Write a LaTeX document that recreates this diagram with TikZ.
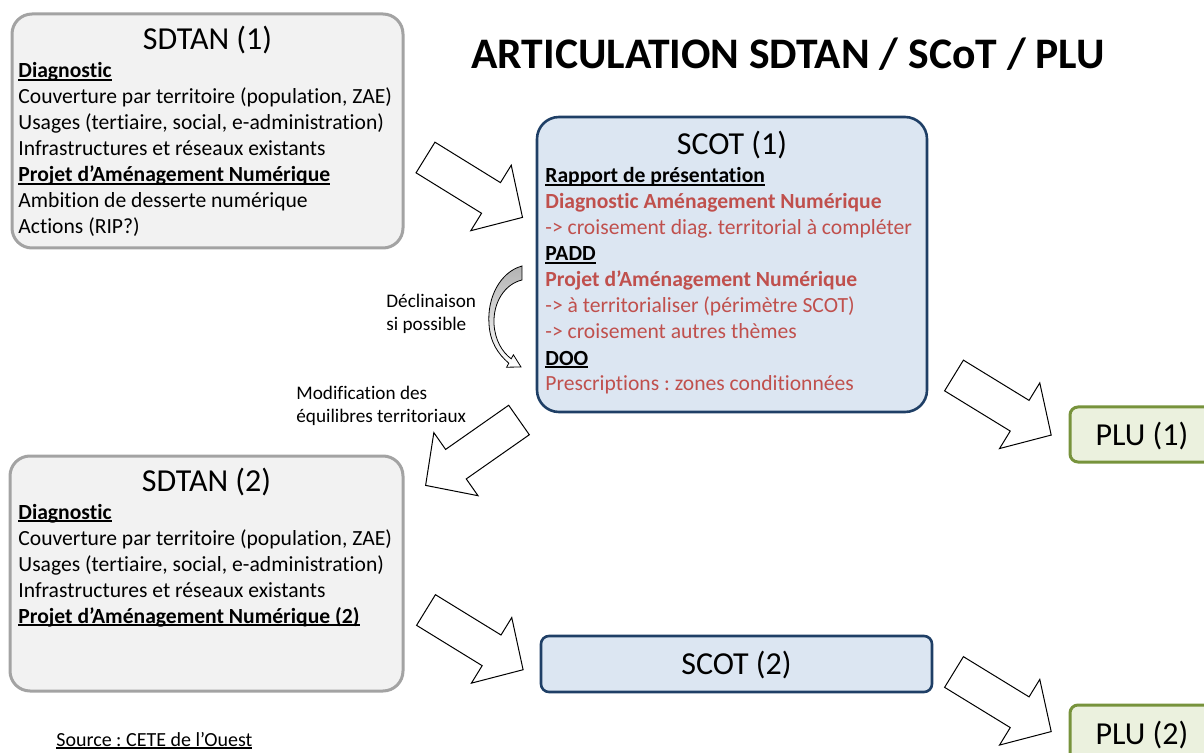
\documentclass[tikz,border=0pt]{standalone}
\usepackage{fontspec}
\setmainfont[Ligatures=NoCommon]{Carlito}
\usepackage{xcolor}
\usepackage{tikz}
\frenchspacing

\definecolor{sdfill}{HTML}{F2F2F2}
\definecolor{sdline}{HTML}{A3A3A3}
\definecolor{scfill}{HTML}{DCE6F2}
\definecolor{scline}{HTML}{1F3F66}
\definecolor{plufill}{HTML}{EBF1DE}
\definecolor{pluline}{HTML}{77933C}
\definecolor{scred}{HTML}{C0504D}

\newcommand{\souligne}[1]{\setbox0\hbox{#1}\rlap{\rule[-1.4pt]{\wd0}{0.7pt}}\box0}
\newcommand{\rubrique}[1]{\souligne{\textbf{#1}}}
\newcommand{\rouge}[1]{\textcolor{scred}{#1}}

\tikzset{
  sdbox/.style={draw=sdline,fill=sdfill,line width=1.5pt,rounded corners=10pt,inner sep=0pt},
  scbox/.style={draw=scline,fill=scfill,line width=1.3pt,inner sep=0pt},
  plubox/.style={draw=pluline,fill=plufill,line width=1.5pt,rounded corners=4pt,inner sep=0pt},
  titre/.style={anchor=base,font=\fontsize{16}{19}\selectfont,inner sep=0pt},
  ligne/.style={anchor=base west,font=\fontsize{10.8}{13}\selectfont,inner sep=0pt},
  lbl/.style={anchor=north west,align=left,font=\fontsize{9.6}{11.5}\selectfont,inner sep=0pt},
  blkarrow/.pic={\draw[fill=white,line width=0.5pt,line join=miter]
    (0,-18) -- (77,-18) -- (77,-38.5) -- (114,0) -- (77,38.5) -- (77,18) -- (0,18) -- cycle;}
}

\begin{document}
\begin{tikzpicture}[x=0.5pt,y=-0.5pt]
\useasboundingbox (0,0) rectangle (1204,753);

% title
\node[anchor=base,font=\fontsize{21.8}{26}\selectfont\bfseries,inner sep=0pt] (titre) at (788,69) {ARTICULATION SDTAN / SCoT / PLU};

% SDTAN (1)
\node[sdbox,minimum width=195.5pt,minimum height=117pt] (sdtanA) at (207.5,131) {};
\node[titre] (sdtanAt) at (207.5,50) {SDTAN (1)};
\foreach \ln [count=\i from 0] in {{\rubrique{Diagnostic}},
    {Couverture par territoire (population, ZAE)},
    {Usages (tertiaire, social, e-administration)},
    {Infrastructures et réseaux existants},
    {\rubrique{Projet d’Aménagement Numérique}},
    {Ambition de desserte numérique},
    {Actions (RIP?)}}
  \node[ligne] (sdtanA-\i) at (18,{78+26*\i}) {\ln};

% SCOT (1)
\node[scbox,rounded corners=11pt,minimum width=195pt,minimum height=147.5pt] (scotA) at (732,264.5) {};
\node[titre] (scotAt) at (732,155) {SCOT (1)};
\foreach \ln [count=\i from 0] in {{\rubrique{Rapport de présentation}},
    {\rouge{\textbf{Diagnostic Aménagement Numérique}}},
    {\rouge{-> croisement diag. territorial à compléter}},
    {\rubrique{PADD}},
    {\rouge{\textbf{Projet d’Aménagement Numérique}}},
    {\rouge{-> à territorialiser (périmètre SCOT)}},
    {\rouge{-> croisement autres thèmes}},
    {\rubrique{DOO}},
    {\rouge{Prescriptions : zones conditionnées}}}
  \node[ligne] (scotA-\i) at (545,{183+26*\i}) {\ln};

% PLU (1)
\node[plubox,minimum width=72pt,minimum height=27.5pt] (pluA) at (1142,434.5) {};
\node[titre,anchor=center] (pluAt) at (1142,436) {PLU (1)};

% SDTAN (2)
\node[sdbox,minimum width=196.5pt,minimum height=117.5pt] (sdtanB) at (206.5,573.5) {};
\node[titre] (sdtanBt) at (206.5,491) {SDTAN (2)};
\foreach \ln [count=\i from 0] in {{\rubrique{Diagnostic}},
    {Couverture par territoire (population, ZAE)},
    {Usages (tertiaire, social, e-administration)},
    {Infrastructures et réseaux existants},
    {\rubrique{Projet d’Aménagement Numérique (2)}}}
  \node[ligne] (sdtanB-\i) at (18,{519+26*\i}) {\ln};

% SCOT (2)
\node[scbox,rounded corners=4pt,minimum width=195.5pt,minimum height=28pt] (scotB) at (736.5,664) {};
\node[titre,anchor=center] (scotBt) at (736.5,665) {SCOT (2)};

% PLU (2)
\node[plubox,minimum width=72pt,minimum height=30pt] (pluB) at (1142,735) {};
\node[titre,anchor=center] (pluBt) at (1142,735) {PLU (2)};

% block arrows
\pic[rotate=-31.7] at (425.5,157.5) {blkarrow};
\pic[rotate=-31.5] at (954,375.5) {blkarrow};
\pic[rotate=-31.6] at (426,610) {blkarrow};
\pic[rotate=-31.5] at (954,672) {blkarrow};
\pic[rotate=215] at (519,420) {blkarrow};

% curved arrow
\draw[line width=0.4pt,top color=black!30,bottom color=white]
  (522,266) .. controls (500,272) and (487,298) .. (489,324)
  .. controls (490,342) and (498,354) .. (508.8,363.2)
  -- (506.6,367.2) -- (521,367) -- (513.4,354.8) -- (511.2,358.8)
  .. controls (502,352) and (495,340) .. (494,324)
  .. controls (493,302) and (505,284) .. (522,280) -- cycle;

% labels
\node[lbl] (decl) at (386,294) {Déclinaison\\si possible};
\node[lbl] (modif) at (296,386) {Modification des\\équilibres territoriaux};
\node[anchor=base west,font=\fontsize{10}{12}\selectfont,inner sep=0pt] (source) at (56,746) {\souligne{Source : CETE de l’Ouest}};

\end{tikzpicture}
\end{document}
